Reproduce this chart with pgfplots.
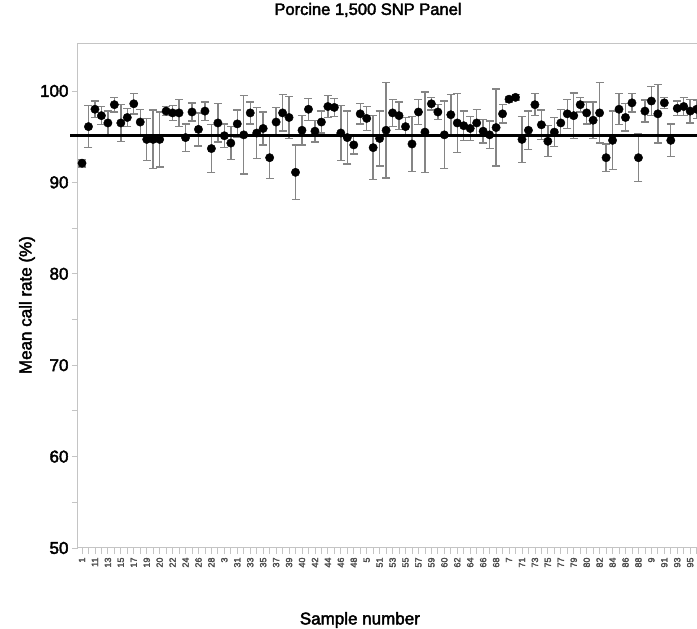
\documentclass[border=0pt]{standalone}
\usepackage{fontspec}
\setmainfont{Liberation Sans}[FakeBold=2.5]
\usepackage{pgfplots}
\usepackage{pgfplotstable}
\pgfplotsset{compat=1.18}

% samples in string order (1,10,11,...); mean call rate and error
\pgfplotstableread{
idx mean err
0 92.1 0.4
1 96.1 2.3
2 98.0 0.9
3 97.3 1.0
4 96.5 1.3
5 98.5 0.8
6 96.5 2.0
7 97.1 1.0
8 98.6 1.1
9 96.6 1.4
10 94.7 2.3
11 94.7 3.2
12 94.7 3.0
13 97.8 0.5
14 97.6 0.8
15 97.6 1.5
16 94.9 1.5
17 97.7 1.0
18 95.8 1.8
19 97.8 1.0
20 93.7 2.6
21 96.5 2.1
22 95.1 1.3
23 94.3 1.8
24 96.4 1.5
25 95.2 4.3
26 97.6 1.2
27 95.4 2.8
28 95.9 1.8
29 92.7 2.3
30 96.6 1.6
31 97.6 2.0
32 97.1 2.3
33 91.1 3.0
34 95.7 1.6
35 98.0 1.2
36 95.6 1.2
37 96.6 1.2
38 98.3 1.2
39 98.2 1.0
40 95.4 3.0
41 94.9 2.9
42 94.1 1.0
43 97.5 1.1
44 97.0 1.3
45 93.8 3.5
46 94.8 3.0
47 95.7 5.2
48 97.6 1.5
49 97.3 1.5
50 96.1 1.0
51 94.2 3.0
52 97.7 1.4
53 95.5 4.4
54 98.6 0.7
55 97.7 0.8
56 95.2 3.7
57 97.4 2.2
58 96.5 3.2
59 96.2 1.6
60 95.9 1.3
61 96.5 1.5
62 95.6 1.3
63 95.2 1.5
64 96.0 4.2
65 97.5 1.0
66 99.1 0.3
67 99.3 0.3
68 94.7 2.5
69 95.7 2.1
70 98.5 1.2
71 96.3 1.6
72 94.5 1.7
73 95.5 1.6
74 96.5 1.5
75 97.5 1.6
76 97.3 2.5
77 98.5 0.8
78 97.6 1.2
79 96.8 2.0
80 97.6 3.3
81 92.7 1.5
82 94.6 3.2
83 98.0 1.7
84 97.1 1.5
85 98.7 1.0
86 92.7 2.6
87 97.8 1.2
88 98.9 1.6
89 97.5 3.2
90 98.7 0.6
91 94.6 1.8
92 98.1 0.8
93 98.3 1.0
94 97.8 1.3
95 98.0 1.0
}\calldata

\definecolor{axgray}{HTML}{C4C4C4}
\definecolor{bargray}{HTML}{858585}

\begin{document}
\begin{tikzpicture}
\begin{axis}[
  scale only axis,
  width=625pt, height=504pt,
  xmin=-0.62, xmax=95.98,
  ymin=50, ymax=105.14,
  clip=false,
  axis line style={axgray, line width=1pt},
  tick style={axgray, line width=0.8pt},
  tick align=outside,
  tick pos=left,
  major tick length=6pt,
  minor tick length=6pt,
  ytick={50,60,...,100},
  minor ytick={55,65,...,95},
  xtick={0,2,...,94},
  minor xtick={1,3,...,95},
  xticklabels={1,11,13,15,17,19,20,22,24,26,28,3,31,33,35,37,39,40,42,44,46,48,5,51,53,55,57,59,60,62,64,66,68,7,71,73,75,77,79,80,82,84,86,88,9,91,93,95},
  x tick label style={rotate=90, anchor=east, font=\fontsize{9}{10}\selectfont, text=black!70},
  y tick label style={font=\fontsize{17}{19}\selectfont},
  /pgf/number format/assume math mode=true,
  title={Porcine 1,500 SNP Panel},
  title style={at={(0.464,1.0556)}, anchor=center, font=\fontsize{16.5}{18}\selectfont},
  xlabel={Sample number},
  xlabel style={at={(0.451,-0.1429)}, anchor=center, font=\fontsize{17}{19}\selectfont},
  ylabel={Mean call rate (\%)},
  ylabel style={at={(-0.0816,0.482)}, anchor=center, font=\fontsize{17}{19}\selectfont},
]
\addplot[only marks, mark=*, mark size=4.2pt, black,
  error bars/.cd, y dir=both, y explicit,
  error bar style={bargray, line width=1.4pt},
  error mark options={bargray, rotate=90, mark size=4pt, line width=1.4pt}]
  table[x=idx, y=mean, y error=err] {\calldata};
\addplot[black, line width=2.6pt] coordinates {(-1.85,95.1) (96.5,95.1)};
\end{axis}
\pgfresetboundingbox
\path[use as bounding box] (-78pt,-81pt) rectangle (619pt,548pt);
\end{tikzpicture}
\end{document}
